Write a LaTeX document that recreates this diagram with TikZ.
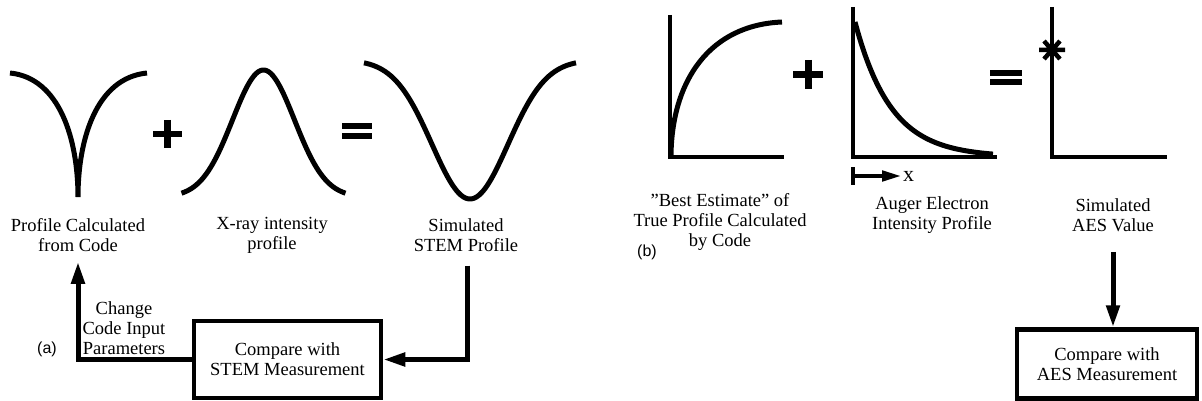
\documentclass[tikz,border=0pt]{standalone}
\usepackage{fontspec}
\setmainfont{Liberation Serif}
\newfontfamily\labfont{Liberation Sans}
\usetikzlibrary{arrows.meta}
\begin{document}
\begin{tikzpicture}[x=1pt,y=-1pt,
  curve/.style={line width=5pt},
  axisline/.style={line width=4.5pt},
  sign/.style={line width=6.5pt},
  lbl/.style={font=\fontsize{18.5}{20}\selectfont, align=center, inner sep=0pt},
  tag/.style={font=\labfont\fontsize{16}{18}\selectfont, inner sep=0pt},
  conn/.style={line width=5pt, -{Triangle[length=22pt,width=13pt]}},
  boxnode/.style={draw, line width=4.5pt, align=center, inner sep=0pt,
     font=\fontsize{18.5}{20}\selectfont}]
\useasboundingbox (0,0) rectangle (1202,401);

% ---------- part (a) ----------
% cusp profile
\draw[curve] (10,73) .. controls (60,78) and (78,140) .. (78,197)
             .. controls (78,140) and (96,78) .. (147,73);
% plus
\draw[sign] (153,134) -- (182,134) (167.5,120) -- (167.5,148);
% gaussian
\draw[curve] plot[domain=-82:82, samples=80, smooth] ({263.5+\x}, {197-127*exp(-((\x/31)^2)/2)});
% equals
\draw[line width=6pt] (342,126) -- (372,126) (342,136) -- (372,136);
% STEM profile
\draw[curve] plot[domain=-106:106, samples=80, smooth] ({470+\x}, {60+139*exp(-((\x/38)^2)/2)});

\node[lbl] (profA) at (78,235) {Profile Calculated\\from Code};
\node[lbl] (xray) at (272,235) {X-ray intensity\\profile};
\node[lbl] (simA) at (466,235) {Simulated\\STEM Profile};
\node[lbl] (chg) at (124,328) {Change\\Code Input\\Parameters};
\node[tag] (ta) at (47,349) {(a)};
\node[boxnode, minimum width=187pt, minimum height=77pt] (boxA) at (287.5,359.5)
  {Compare with\\STEM Measurement};

\draw[conn] (boxA.west) -| ([yshift=-10pt]profA.south);
\draw[conn] ([yshift=-14pt,xshift=1pt]simA.south) |- (boxA.east);

% ---------- part (b) ----------
% graph 1
\draw[axisline] (670,15) -- (670,157) -- (784,157);
\draw[curve] (671,155) .. controls (672,80) and (710,25) .. (782,22);
% plus
\draw[line width=7pt] (793,74.5) -- (823,74.5) (808,60) -- (808,89);
% graph 2
\draw[axisline] (853,7) -- (853,157) -- (997,157);
\draw[curve] plot[domain=0:138, samples=70, smooth] ({855+\x}, {157-135*exp(-\x/36)});
\coordinate (xbar) at (853,176);
\coordinate (xtip) at (902,176);
\draw[line width=4.5pt] (853,167) -- (853,185);
\draw[line width=4.5pt, -{Triangle[length=20pt,width=10pt]}] (xbar) -- (xtip);
\node[font=\fontsize{22}{22}\selectfont, inner sep=0pt, anchor=west] (xl) at (903,176) {x};
% equals
\draw[line width=6pt] (990,73) -- (1022,73) (990,82) -- (1022,82);
% graph 3
\draw[axisline] (1052,7) -- (1052,157) -- (1167,157);
\draw[line width=4.5pt] (1039,50) -- (1065,50) (1044,41) -- (1060,59) (1060,41) -- (1044,59);

\node[lbl] (bestB) at (720,222) {\symbol{34}Best Estimate\symbol{34} of\\True Profile Calculated\\by Code};
\node[tag] (tb) at (647,252) {(b)};
\node[lbl] (auger) at (932,215) {Auger Electron\\Intensity Profile};
\node[lbl] (simB) at (1113,215) {Simulated\\AES Value};
\node[boxnode, minimum width=180pt, minimum height=69pt] (boxB) at (1107,364)
  {Compare with\\AES Measurement};
\coordinate (arrB) at ([yshift=-20pt]simB.south);
\draw[conn] (arrB) -- (arrB |- boxB.north);
\end{tikzpicture}
\end{document}
